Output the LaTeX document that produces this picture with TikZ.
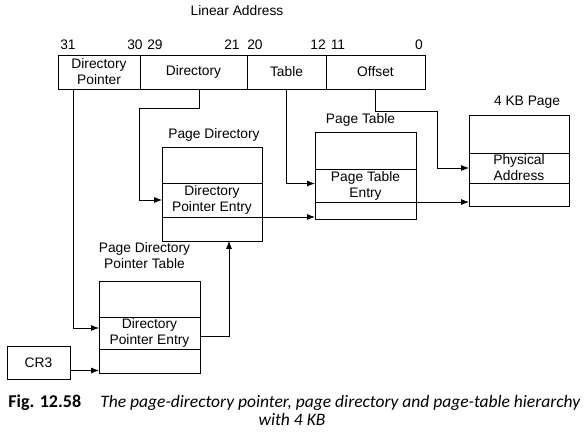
\documentclass[tikz,border=0pt]{standalone}
\usepackage{fontspec}
\setmainfont{Liberation Sans}
\newfontfamily\capfont{Carlito}
\usetikzlibrary{positioning, calc, arrows.meta}

\begin{document}
\begin{tikzpicture}[
		x=1pt, y=1pt,
		line width=0.8pt,
		font=\fontsize{13.8}{16}\selectfont,
		field/.style={draw, minimum height=34pt, inner sep=0pt, outer sep=0pt, align=center},
		row/.style={draw, inner sep=0pt, outer sep=0pt, align=center},
		title/.style={inner sep=0pt, align=center},
		bitnum/.style={inner sep=0pt, anchor=base},
		arrow/.style={-{Latex[length=8pt, width=6pt]}},
		caption/.style={inner sep=0pt}
		]
		\useasboundingbox (0,0) rectangle (587,434);
		
		% Linear address fields
		\node[title, anchor=base] (linaddr) at (237,418) {Linear Address};
		\node[field, minimum width=82pt, anchor=north west] (dirptr) at (58,379) {Directory\\Pointer};
		\node[field, minimum width=107pt, right=0pt of dirptr] (dir) {Directory};
		\node[field, minimum width=79pt, right=0pt of dir] (table) {Table};
		\node[field, minimum width=99pt, right=0pt of table] (offset) {Offset};
		
		\foreach \x/\b in {68/31, 135/30, 155/29, 232/21, 255/20, 318/12, 338/11, 419/0}
			\node[bitnum] (bit\b) at (\x,384) {\b};
		
		% Page directory pointer table
		\node[row, minimum width=101pt, minimum height=36pt, anchor=north west] (pdpttop) at (99,153) {};
		\node[row, minimum width=101pt, minimum height=32pt, below=0pt of pdpttop] (pdptentry) {Directory\\Pointer Entry};
		\node[row, minimum width=101pt, minimum height=24pt, below=0pt of pdptentry] (pdptlow) {};
		\node[title, above=12pt of pdpttop, xshift=-5pt] (pdpttitle) {Page Directory\\Pointer Table};
		
		% Page directory
		\node[row, minimum width=100pt, minimum height=36pt, anchor=north west] (pdtop) at (162,287) {};
		\node[row, minimum width=100pt, minimum height=34pt, below=0pt of pdtop] (pdentry) {Directory\\Pointer Entry};
		\node[row, minimum width=100pt, minimum height=24pt, below=0pt of pdentry] (pdlow) {};
		\node[title, above=5pt of pdtop, xshift=2pt] (pdtitle) {Page Directory};
		
		% Page table
		\node[row, minimum width=101pt, minimum height=37pt, anchor=north west] (pttop) at (315,302) {};
		\node[row, minimum width=101pt, minimum height=33pt, below=0pt of pttop] (ptentry) {Page Table\\Entry};
		\node[row, minimum width=101pt, minimum height=17pt, below=0pt of ptentry] (ptlow) {};
		\node[title, above=5pt of pttop, xshift=-5pt] (pttitle) {Page Table};
		
		% 4 KB page
		\node[row, minimum width=100pt, minimum height=38pt, anchor=north west] (pagetop) at (469,319) {};
		\node[row, minimum width=100pt, minimum height=30pt, below=0pt of pagetop] (pageentry) {Physical\\Address};
		\node[row, minimum width=100pt, minimum height=23pt, below=0pt of pageentry] (pagelow) {};
		\node[title, above=6pt of pagetop, xshift=8pt] (pagetitle) {4 KB Page};
		
		\node[field, minimum width=63pt, minimum height=33pt] (cr3) at (38.5,71.5) {CR3};
		
		% Bends
		\coordinate (dirbend) at (139,326);
		\coordinate (offbend) at (437,323);
		
		\draw[arrow] ([xshift=15pt]dirptr.south west) |- ([yshift=5pt]pdptentry.west);
		\draw[arrow] ([xshift=6pt]dir.south) |- (dirbend) |- (pdentry.west);
		\draw[arrow] (table.south) |- ([yshift=2pt]ptentry.west);
		\draw[arrow] (offset.south) |- (offbend) |- (pageentry.west);
		\draw[arrow] ([yshift=-8pt]cr3.east) -- ([yshift=-8pt]cr3.east -| pdptlow.west);
		\draw[arrow] ([yshift=-3pt]pdptentry.east) -| ([xshift=17pt]pdlow.south);
		\draw[arrow] (pdentry.south east) -- (pdentry.south east -| ptlow.west);
		\draw[arrow] (ptentry.south east) -- (ptentry.south east -| pagelow.west);
		
		% Caption
		\node[caption, font=\capfont\fontsize{18}{20}\selectfont\bfseries, anchor=base west] (fignum) at (8,26) {Fig. 12.58};
		\node[caption, font=\capfont\fontsize{17.5}{20}\selectfont\itshape, anchor=base west] (figtext) at (100,26) {The page-directory pointer, page directory and page-table hierarchy};
		\node[caption, font=\capfont\fontsize{17.5}{20}\selectfont\itshape, anchor=base] (figtext2) at (292,8) {with 4 KB};
		
	\end{tikzpicture}
\end{document}
